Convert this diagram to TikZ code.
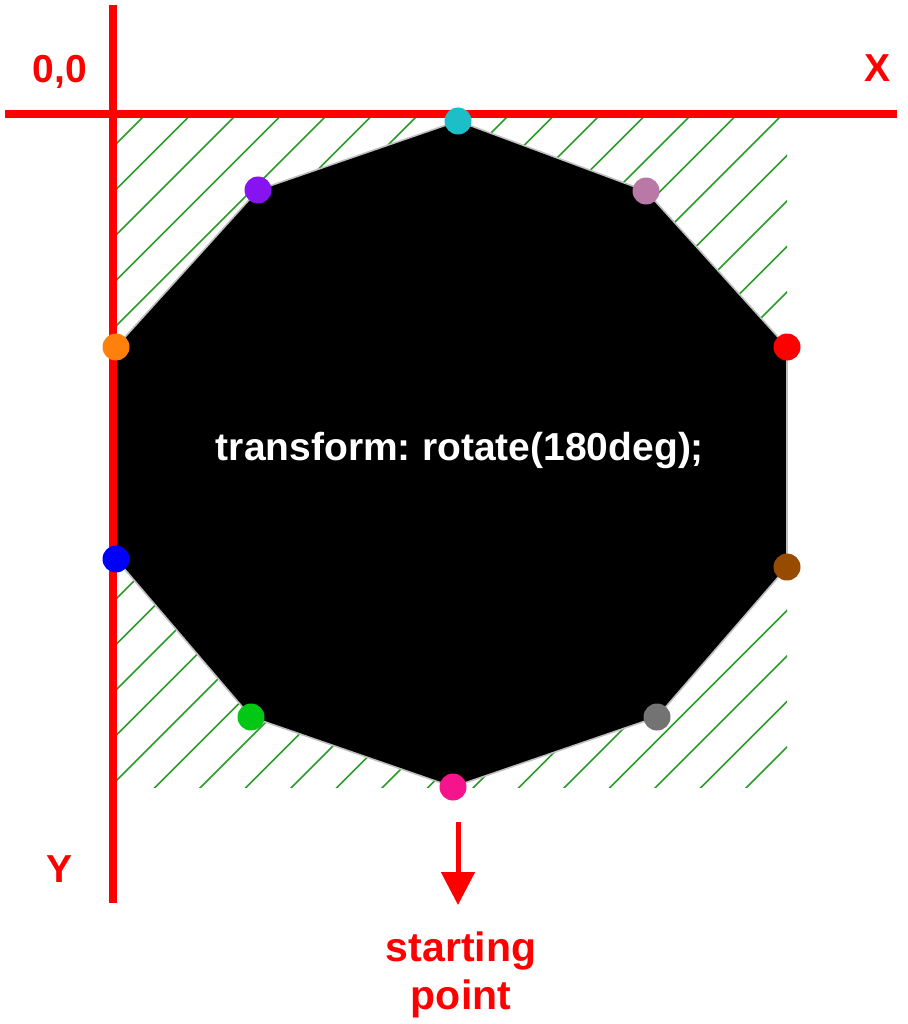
\documentclass[tikz,border=0pt]{standalone}
\usepackage{fontspec}
\setmainfont{Liberation Sans}
\usetikzlibrary{arrows.meta}

\definecolor{axisred}{RGB}{255,0,0}
\definecolor{hatchgreen}{RGB}{40,155,40}
\definecolor{dotcyan}{RGB}{30,190,200}
\definecolor{dotviolet}{RGB}{135,20,240}
\definecolor{dotmauve}{RGB}{185,120,165}
\definecolor{dotorange}{RGB}{255,128,10}
\definecolor{dotred}{RGB}{255,0,0}
\definecolor{dotblue}{RGB}{0,0,250}
\definecolor{dotbrown}{RGB}{150,75,0}
\definecolor{dotgreen}{RGB}{0,200,20}
\definecolor{dotgray}{RGB}{115,115,115}
\definecolor{dotpink}{RGB}{245,20,140}

\begin{document}
\begin{tikzpicture}[x=1pt,y=-1pt,
    dot/.style={circle,fill=#1,minimum size=27pt,inner sep=0pt},
    lbl/.style={text=axisred,inner sep=0pt,font=\bfseries\fontsize{39}{48}\selectfont},
    axis/.style={draw=axisred,line width=8pt}]
  \useasboundingbox (0,0) rectangle (907,1024);

  % hatched box
  \begin{scope}
    \clip (116,116) rectangle (787,787);
    \foreach \c in {0,...,29}
      \draw[hatchgreen,line width=1.6pt] (116,{144+45.5*\c}) -- ({144+45.5*\c},116);
  \end{scope}

  % decagon corners
  \coordinate (v0) at (458,121); \coordinate (v1) at (646,191);
  \coordinate (v2) at (787,347); \coordinate (v3) at (787,567);
  \coordinate (v4) at (657,717); \coordinate (v5) at (453,787);
  \coordinate (v6) at (251,717); \coordinate (v7) at (116,559);
  \coordinate (v8) at (116,347); \coordinate (v9) at (258,190);

  \draw[fill=black,draw=black!25,line width=1.6pt] (v0) -- (v1) -- (v2)
        -- (v3) -- (v4) -- (v5) -- (v6) -- (v7) -- (v8) -- (v9) -- cycle;

  \node[text=white,inner sep=0pt,anchor=base,
        font=\bfseries\fontsize{39}{48}\selectfont] (rule) at (460,460)
        {transform:\hspace{-0.08em} rotate(180deg);};

  % axes
  \coordinate (xa) at (5,114); \coordinate (xb) at (897,114);
  \coordinate (ya) at (113,5); \coordinate (yb) at (113,903);
  \draw[axis] (xa) -- (xb); \draw[axis] (ya) -- (yb);

  \node[lbl,anchor=base] (origin) at (60,83) {0,0};
  \node[lbl,anchor=base] (xlbl) at (877,82) {X};
  \node[lbl,anchor=base] (ylbl) at (60,882) {Y};

  % corner dots
  \node[dot=dotcyan] (d0) at (v0) {}; \node[dot=dotmauve] (d1) at (v1) {};
  \node[dot=dotred] (d2) at (v2) {}; \node[dot=dotbrown] (d3) at (v3) {};
  \node[dot=dotgray] (d4) at (v4) {}; \node[dot=dotpink] (d5) at (v5) {};
  \node[dot=dotgreen] (d6) at (v6) {}; \node[dot=dotblue] (d7) at (v7) {};
  \node[dot=dotorange] (d8) at (v8) {}; \node[dot=dotviolet] (d9) at (v9) {};

  % start marker
  \coordinate (arrowtop) at (458,822);
  \node[lbl,align=center,anchor=north,font=\bfseries\fontsize{41}{48}\selectfont]
        (start) at (461,932) {starting\\point};
  \draw[axisred,line width=5pt,-{Triangle[width=33pt,length=33pt]},shorten >=27pt]
        (arrowtop) -- (arrowtop |- start.north);
\end{tikzpicture}
\end{document}
